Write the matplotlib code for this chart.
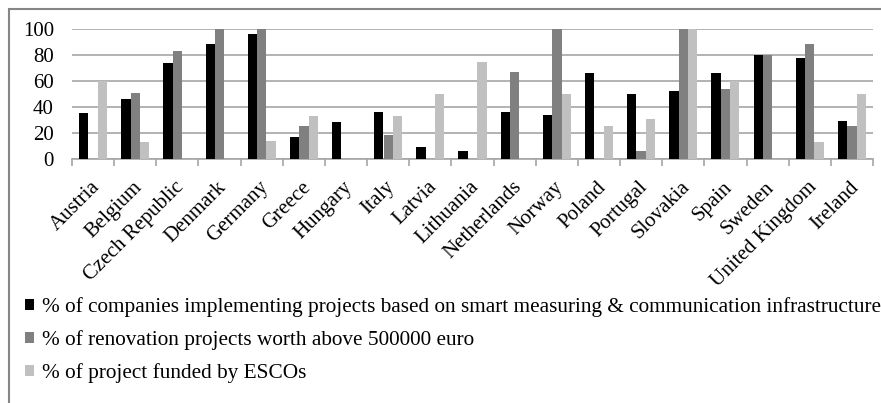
import numpy as np
import matplotlib.pyplot as plt
from matplotlib.patches import Rectangle, Patch
from matplotlib.transforms import ScaledTranslation

# Paises y porcentajes de cada indicador
paises = ['Austria', 'Belgium', 'Czech Republic', 'Denmark', 'Germany', 'Greece',
          'Hungary', 'Italy', 'Latvia', 'Lithuania', 'Netherlands', 'Norway',
          'Poland', 'Portugal', 'Slovakia', 'Spain', 'Sweden', 'United Kingdom',
          'Ireland']
smart_infra = [35, 46, 74, 89, 96, 17, 28, 36, 9, 6, 36, 34, 66, 50, 52, 66, 80, 78, 29]
renovacion = [0, 51, 83, 100, 100, 25, 0, 18, 0, 0, 67, 100, 0, 6, 100, 54, 80, 89, 25]
escos = [60, 13, 0, 0, 14, 33, 0, 33, 50, 75, 0, 50, 25, 31, 100, 60, 0, 13, 50]

etiquetas = ['% of companies implementing projects based on smart measuring & communication infrastructure',
             '% of renovation projects worth above 500000 euro',
             '% of project funded by ESCOs']
colores = ['#000000', '#808080', '#c0c0c0']

plt.rcParams['font.family'] = ['Liberation Serif', 'DejaVu Serif']

W, H = 881, 403
fig = plt.figure(figsize=(W / 100, H / 100), dpi=100)
ax = fig.add_axes([72 / W, (H - 158.7) / H, (873 - 72) / W, 129.4 / H])

x = np.arange(len(paises))
ancho = 1 / 4.5
for k, serie in enumerate([smart_infra, renovacion, escos]):
    ax.bar(x + (k - 1) * ancho, serie, width=ancho, color=colores[k], zorder=3)

ax.set_xlim(-0.5, len(paises) - 0.5)
ax.set_ylim(0, 100)
ax.set_yticks(range(0, 101, 20))
ax.yaxis.grid(True, color='#a6a6a6', linewidth=1.2, zorder=0)
ax.tick_params(axis='y', length=0, pad=13, labelsize=15)

# Marcas del eje x entre categorias, etiquetas en el centro
ax.set_xticks(np.arange(-0.5, len(paises), 1))
ax.set_xticklabels([])
ax.tick_params(axis='x', which='major', length=5, color='#a6a6a6', width=1.2)
ax.set_xticks(x, minor=True)
ax.set_xticklabels(paises, minor=True, rotation=45, ha='right',
                   rotation_mode='anchor', fontsize=15)
ax.tick_params(axis='x', which='minor', length=0, pad=18.5)
desplazamiento = ScaledTranslation(4 / 100, 0, fig.dpi_scale_trans)
for lab in ax.get_xticklabels(minor=True):
    lab.set_va('center')
    lab.set_transform(lab.get_transform() + desplazamiento)

for lado in ['top', 'right', 'left']:
    ax.spines[lado].set_visible(False)
ax.spines['bottom'].set_color('#a6a6a6')
ax.spines['bottom'].set_linewidth(1.2)

# Leyenda debajo del grafico
handles = [Patch(facecolor=c, edgecolor='none') for c in colores]
fig.legend(handles, etiquetas, loc='upper left', bbox_to_anchor=(25 / W, 1 - 297.5 / H),
           frameon=False, prop={'family': ['Liberation Serif'], 'size': 15.3},
           handlelength=0.42, handleheight=0.42,
           handletextpad=0.4, labelspacing=0.6, borderaxespad=0, borderpad=0)

# Marco exterior
fig.patches.append(Rectangle((8.5 / W, -0.05), 1.0, 1 - 9 / H + 0.05,
                             transform=fig.transFigure, fill=False,
                             edgecolor='#868686', linewidth=1.5))

fig.savefig('out.png', dpi=100)
